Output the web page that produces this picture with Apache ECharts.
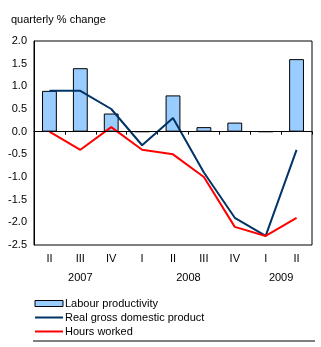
<!DOCTYPE html>
<html>
<head>
<meta charset="utf-8">
<script src="https://cdn.jsdelivr.net/npm/echarts@6/dist/echarts.min.js"></script>
<style>
  html, body { margin: 0; padding: 0; background: #fff; }
  #chart { width: 321px; height: 347px; }
</style>
</head>
<body>
<div id="chart"></div>
<script>
// quarters, 2007 Q2 to 2009 Q2
const quarters = ['II', 'III', 'IV', 'I', 'II', 'III', 'IV', 'I', 'II']
const years = ['2007', '2008', '2009']
const quartersPerYear = [3, 4, 2]

const labourProductivity = [0.9, 1.4, 0.4, 0, 0.8, 0.1, 0.2, 0, 1.6]
const realGdp = [0.9, 0.9, 0.5, -0.3, 0.3, -0.9, -1.9, -2.3, -0.4]
const hoursWorked = [0.0, -0.4, 0.1, -0.4, -0.5, -1.0, -2.1, -2.3, -1.9]

const yTicks = { min: -2.5, max: 2.0, step: 0.5 }

const font = "'Liberation Sans', Arial, sans-serif"

// year label sits in the middle of its group of quarters
const yearCenters = []
let start = 0
quartersPerYear.forEach((n) => {
  yearCenters.push(start + n / 2)
  start += n
})

const chart = echarts.init(document.getElementById('chart'))

chart.setOption({
  animation: false,
  title: {
    text: 'quarterly % change',
    left: 6,
    top: 9,
    textStyle: { fontFamily: font, fontSize: 11, fontWeight: 'normal', color: '#000' },
  },
  grid: {
    left: 34,
    right: 9,
    top: 41,
    bottom: 102,
    show: true,
    borderColor: '#000',
    borderWidth: 1,
  },
  legend: {
    orient: 'vertical',
    left: 34,
    top: 298,
    padding: 0,
    itemWidth: 28,
    itemHeight: 6,
    itemGap: 3,
    textStyle: { fontFamily: font, fontSize: 11, color: '#000', padding: [0, 0, 0, -3] },
    data: [
      { name: 'Labour productivity', icon: 'rect', itemStyle: { borderWidth: 1, borderColor: '#000' } },
      { name: 'Real gross domestic product', itemStyle: { opacity: 0 } },
      { name: 'Hours worked', itemStyle: { opacity: 0 } },
    ],
  },
  xAxis: [
    {
      type: 'category',
      data: quarters,
      position: 'bottom',
      axisLine: { lineStyle: { color: '#000', width: 1 } },
      axisTick: { show: true, length: 3, lineStyle: { color: '#000' } },
      axisLabel: { color: '#000', fontFamily: font, fontSize: 11, margin: 8 },
      splitLine: { show: false },
    },
    {
      type: 'value',
      min: 0,
      max: quarters.length,
      interval: 0.5,
      position: 'bottom',
      axisLine: { show: false },
      axisTick: { show: false },
      splitLine: { show: false },
      axisLabel: {
        color: '#000',
        fontFamily: font,
        fontSize: 11,
        margin: 27,
        showMinLabel: true,
        showMaxLabel: true,
        formatter: (v) => {
          const i = yearCenters.indexOf(v)
          return i >= 0 ? years[i] : ''
        },
      },
    },
  ],
  yAxis: {
    type: 'value',
    min: yTicks.min,
    max: yTicks.max,
    interval: yTicks.step,
    axisLine: { show: true, lineStyle: { color: '#000', width: 1 } },
    axisTick: { show: false },
    splitLine: { show: false },
    axisLabel: {
      color: '#000',
      fontFamily: font,
      fontSize: 11,
      margin: 7,
      formatter: (v) => v.toFixed(1),
    },
  },
  series: [
    {
      name: 'Labour productivity',
      type: 'bar',
      xAxisIndex: 0,
      barWidth: '48%',
      itemStyle: { color: '#99ccff', borderColor: '#000', borderWidth: 1 },
      data: labourProductivity,
      markLine: {
        silent: true,
        symbol: 'none',
        label: { show: false },
        lineStyle: { color: '#000', width: 1, type: 'solid' },
        data: [[{ xAxis: 0, yAxis: 0 }, { xAxis: quarters.length - 1, yAxis: 0 }]],
      },
      z: 2,
    },
    {
      name: 'Real gross domestic product',
      type: 'line',
      xAxisIndex: 0,
      symbol: 'none',
      lineStyle: { color: '#003366', width: 2 },
      itemStyle: { color: '#003366' },
      data: realGdp,
      z: 3,
    },
    {
      name: 'Hours worked',
      type: 'line',
      xAxisIndex: 0,
      symbol: 'none',
      lineStyle: { color: '#ff0000', width: 2 },
      itemStyle: { color: '#ff0000' },
      data: hoursWorked,
      z: 4,
    },
  ],
  graphic: [
    {
      type: 'line',
      shape: { x1: 33, y1: 341, x2: 315, y2: 341 },
      style: { stroke: '#000', lineWidth: 1 },
    },
  ],
})
</script>
</body>
</html>
